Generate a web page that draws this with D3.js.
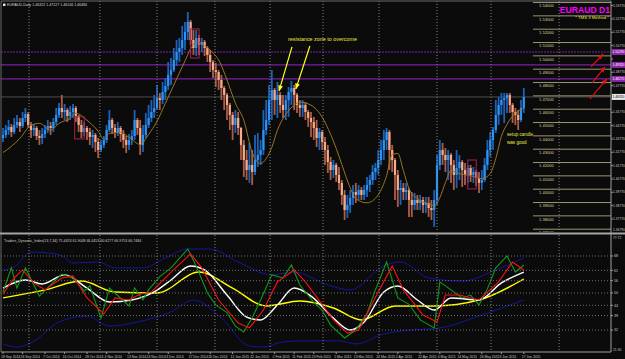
<!DOCTYPE html>
<html><head><meta charset="utf-8">
<script src="https://cdn.jsdelivr.net/npm/d3@7"></script>
<style>
html,body{margin:0;padding:0;background:#0b0b0b;overflow:hidden}
svg{display:block;font-family:"Liberation Sans",Arial,sans-serif}
</style></head><body>
<svg id="c" width="625" height="359"></svg>
<script>
// ---------- DATA ----------
const symbolHeader = "EURAUD,Daily  1.46322 1.47127 1.46146 1.46484";
const tdiHeader = "Traders_Dynamic_Index(13,7,34) 75.4453 61.9048 46.4453 60.6277 66.9753 66.7484";
const open0 = 1.4384;
const hi = [1.4459,1.4482,1.4519,1.4489,1.4534,1.4557,1.4534,1.4579,1.4609,1.4579,1.4504,1.4489,1.4474,1.4444,1.4459,1.4482,1.4519,1.4504,1.4534,1.4609,
1.4647,1.4707,1.4639,1.4609,1.4624,1.4639,1.4624,1.4557,1.4519,1.4504,1.4474,1.4459,1.4444,1.4422,1.4384,1.4369,1.4399,1.4482,1.4594,1.4534,
1.4489,1.4504,1.4474,1.4444,1.4399,1.4414,1.4444,1.4594,1.4534,1.4519,1.4482,1.4572,1.4632,1.4669,1.4707,1.4782,1.4722,1.4804,1.4834,1.4954,
1.4984,1.5059,1.5119,1.5134,1.5224,1.5254,1.5329,1.5269,1.5194,1.5194,1.5157,1.5134,1.5119,1.5074,1.5044,1.4969,1.4947,1.4894,1.4857,1.4774,
1.4722,1.4647,1.4579,1.4594,1.4579,1.4467,1.4369,1.4294,1.4347,1.4294,1.4407,1.4422,1.4369,1.4594,1.4669,1.4782,1.4894,1.4759,1.4804,1.4729,
1.4707,1.4707,1.4767,1.4812,1.4782,1.4722,1.4669,1.4669,1.4654,1.4594,1.4579,1.4542,1.4519,1.4459,1.4444,1.4392,1.4332,1.4242,1.4219,1.4197,
1.4167,1.4069,1.3994,1.3957,1.3994,1.4032,1.4047,1.4032,1.4017,1.4032,1.4092,1.4107,1.4182,1.4197,1.4294,1.4369,1.4444,1.4459,1.4444,1.4332,
1.4234,1.4144,1.4069,1.4047,1.4047,1.4009,1.3979,1.3972,1.3957,1.3957,1.3942,1.3942,1.3942,1.3919,1.3994,1.4257,1.4369,1.4347,1.4309,1.4294,
1.4272,1.4219,1.4294,1.4257,1.4219,1.4197,1.4182,1.4182,1.4167,1.4144,1.4129,1.4144,1.4234,1.4369,1.4429,1.4467,1.4669,1.4692,1.4722,1.4722,
1.4722,1.4722,1.4647,1.4609,1.4594,1.4669,1.4759];
const lo = [1.4354,1.4384,1.4407,1.4392,1.4414,1.4459,1.4429,1.4459,1.4504,1.4459,1.4384,1.4399,1.4369,1.4332,1.4339,1.4384,1.4422,1.4407,1.4429,1.4482,
1.4534,1.4534,1.4519,1.4504,1.4519,1.4534,1.4504,1.4429,1.4384,1.4399,1.4369,1.4332,1.4309,1.4279,1.4234,1.4279,1.4309,1.4347,1.4429,1.4414,
1.4384,1.4399,1.4354,1.4309,1.4272,1.4294,1.4332,1.4369,1.4407,1.4257,1.4279,1.4384,1.4459,1.4504,1.4534,1.4594,1.4594,1.4639,1.4669,1.4744,
1.4782,1.4879,1.4924,1.4954,1.5007,1.5044,1.5119,1.5082,1.5007,1.4999,1.5007,1.5029,1.4999,1.4954,1.4879,1.4834,1.4767,1.4744,1.4669,1.4594,
1.4519,1.4444,1.4369,1.4422,1.4407,1.4219,1.4092,1.4069,1.4047,1.4032,1.4107,1.4167,1.4182,1.4257,1.4407,1.4482,1.4519,1.4557,1.4534,1.4572,
1.4534,1.4519,1.4542,1.4632,1.4594,1.4572,1.4542,1.4542,1.4519,1.4467,1.4392,1.4369,1.4317,1.4294,1.4294,1.4182,1.4122,1.4069,1.4084,1.4054,
1.3994,1.3882,1.3769,1.3784,1.3822,1.3882,1.3897,1.3919,1.3919,1.3919,1.3942,1.3979,1.4032,1.4069,1.4107,1.4182,1.4219,1.4294,1.4144,1.4129,
1.3919,1.3867,1.3882,1.3919,1.3919,1.3792,1.3792,1.3844,1.3844,1.3844,1.3822,1.3822,1.3792,1.3769,1.3717,1.3882,1.4144,1.4182,1.4129,1.4069,
1.4047,1.3994,1.4009,1.4069,1.4017,1.4032,1.4047,1.4054,1.4047,1.4024,1.3972,1.3994,1.4054,1.4144,1.4242,1.4294,1.4422,1.4482,1.4557,1.4497,
1.4572,1.4572,1.4497,1.4482,1.4444,1.4504,1.4572];
const cl = [1.4407,1.4444,1.4467,1.4429,1.4482,1.4504,1.4474,1.4534,1.4564,1.4482,1.4444,1.4459,1.4399,1.4384,1.4414,1.4444,1.4474,1.4459,1.4504,1.4557,
1.4609,1.4579,1.4594,1.4549,1.4579,1.4609,1.4549,1.4482,1.4429,1.4459,1.4429,1.4392,1.4407,1.4354,1.4294,1.4332,1.4369,1.4444,1.4519,1.4459,
1.4429,1.4459,1.4414,1.4369,1.4332,1.4369,1.4399,1.4519,1.4459,1.4332,1.4407,1.4482,1.4534,1.4579,1.4609,1.4684,1.4669,1.4729,1.4774,1.4857,
1.4894,1.4969,1.5029,1.5059,1.5119,1.5179,1.5254,1.5119,1.5059,1.5134,1.5082,1.5104,1.5059,1.5007,1.4954,1.4894,1.4879,1.4819,1.4759,1.4707,
1.4632,1.4557,1.4482,1.4534,1.4459,1.4332,1.4219,1.4144,1.4182,1.4129,1.4219,1.4257,1.4294,1.4444,1.4519,1.4669,1.4744,1.4669,1.4707,1.4632,
1.4594,1.4669,1.4729,1.4759,1.4707,1.4632,1.4609,1.4632,1.4579,1.4534,1.4504,1.4459,1.4384,1.4429,1.4354,1.4294,1.4204,1.4144,1.4182,1.4107,
1.4047,1.3957,1.3844,1.3882,1.3934,1.3979,1.3957,1.3994,1.3957,1.3994,1.4032,1.4069,1.4129,1.4159,1.4219,1.4294,1.4369,1.4429,1.4294,1.4219,
1.4107,1.3994,1.4009,1.3979,1.3994,1.3919,1.3882,1.3919,1.3897,1.3919,1.3882,1.3897,1.3859,1.3844,1.3919,1.4182,1.4294,1.4257,1.4219,1.4257,
1.4182,1.4107,1.4159,1.4204,1.4144,1.4107,1.4159,1.4107,1.4129,1.4084,1.4047,1.4069,1.4182,1.4294,1.4369,1.4444,1.4557,1.4632,1.4669,1.4684,
1.4707,1.4632,1.4579,1.4557,1.4519,1.4609,1.4692];

const maIdx = [0,3,6,10,13,17,20,24,26,30,34,36,38,42,45,49,52,55,58,62,65,67,69,72,75,77,80,83,86,89,92,94,96,98,101,104,106,110,114,117,119,121,124,126,130,134,137,139,141,143,145,148,152,154,156,158,160,163,167,171,174,176,178,180,183,186];
const maVal = [1.4275,1.4321,1.4381,1.4479,1.4494,1.4442,1.4494,1.4532,1.4570,1.4517,1.4434,1.4374,1.4419,1.4426,1.4389,1.4336,1.4411,1.4509,1.4645,1.4827,1.4962,1.5053,1.5106,1.5076,1.5023,1.4970,1.4819,1.4645,1.4517,1.4275,1.4192,1.4230,1.4313,1.4442,1.4562,1.4630,1.4653,1.4630,1.4540,1.4411,1.4306,1.4185,1.4011,1.3928,1.3898,1.3958,1.4102,1.4260,1.4268,1.4140,1.4004,1.3928,1.3890,1.3875,1.3936,1.4049,1.4140,1.4117,1.4102,1.4079,1.4117,1.4230,1.4396,1.4487,1.4570,1.4608];

const levelPrices = [1.54,1.53,1.52,1.51,1.50,1.49,1.48,1.47,1.46,1.45,1.44,1.43,1.42,1.41,1.40,1.39,1.38,1.37];
const levelStartIdx = 189.3;
const priceTicks = [1.5377,1.5277,1.5177,1.5077,1.4977,1.4877,1.4777,1.4677,1.4577,1.4477,1.4377,1.4277,1.4177,1.4077,1.3977,1.3877,1.3777];
const purpleDotted = 1.5029;
const purpleSolid = [1.4932,1.4827];

const gridIdx = [9.3,34.6,55,75.7,95.4,114.3,134.3,155,174.3,198.6];
const dateIdx = [0,7,15,22,30,37,45,52,59,67,74,82,89,97,104,111,119,126,134,141,149,156,163,171,178,186];
const dateLabels = ["18 Sep 2014","26 Sep 2014","7 Oct 2014","16 Oct 2014","28 Oct 2014","4 Nov 2014","13 Nov 2014","24 Nov 2014","3 Dec 2014","17 Dec 2014","26 Dec 2014","12 Jan 2015","22 Jan 2015","2 Feb 2015","11 Feb 2015","23 Feb 2015","5 Mar 2015","13 Mar 2015","24 Mar 2015","2 Apr 2015","22 Apr 2015","4 May 2015","14 May 2015","26 May 2015","3 Jun 2015","17 Jun 2015"];

const boxes = [[25.6,29.0,1.4542,1.4377],[67.0,70.0,1.5202,1.4984],[166.0,169.0,1.4219,1.4002]];
const yellowArrows = [[103.2,1.5067,98.6,1.4737],[109.6,1.5074,104.6,1.4752]];
const redArrows = [[210.0,1.4917,214.3,1.5014],[210.4,1.4797,215.0,1.4917],[209.6,1.4677,215.7,1.4827]];

// TDI
const tdiLevels = [68,61,56,50,44,39,32];
const greenIdx = [0,3,5,8,13,17,21,25,29,31,35,38,45,47,50,52,56,60,66,69,73,76,80,83,86,89,92,96,100,103,106,111,114,117,122,126,130,133,137,141,145,149,154,156,160,164,167,170,173,176,180,183,186];
const greenVal = [50.5,62.2,52.4,62.2,48.5,53.9,59.2,57.3,51.0,53.5,37.8,52.4,43.7,52.4,46.6,51.5,58.0,62.2,71.4,63.1,50.0,44.2,40.5,33.9,31.0,38.0,46.6,58.8,57.3,63.6,53.9,45.5,41.5,34.4,28.1,32.0,40.0,51.5,65.1,47.6,44.5,36.9,33.0,55.4,51.5,47.6,49.0,44.2,52.0,62.2,68.0,60.2,63.6];
const redIdx = [0,4,7,11,15,21,25,30,36,40,45,49,53,60,67,71,77,84,88,93,98,104,108,118,123,127,134,139,143,150,155,158,163,170,177,182,186];
const redVal = [49.5,57.3,61.2,54.9,51.5,57.3,58.3,47.6,39.8,47.6,46.6,49.5,50.5,60.2,69.0,62.2,46.6,35.4,33.0,41.7,55.4,61.2,55.4,36.9,30.5,32.0,50.5,63.1,51.5,39.3,35.9,49.0,49.0,46.6,55.4,65.1,61.2];
const whiteIdx = [0,8,14,22,30,38,46,54,60,67,72,80,87,92,98,104,110,118,124,129,136,141,148,154,160,170,178,186];
const whiteVal = [52.4,56.3,54.4,58.8,52.4,45.6,46.6,50.5,56.3,63.1,61.2,49.0,38.3,36.9,44.2,52.4,48.5,37.8,32.0,35.9,50.5,53.4,46.6,41.7,47.6,46.6,54.9,60.2];
const yellowIdx = [0,15,28,40,55,70,82,94,106,118,128,140,154,170,186];
const yellowVal = [47.6,51.5,55.8,50.5,50.0,60.2,52.4,43.7,46.1,42.7,36.9,43.7,43.7,46.6,56.8];
const upIdx = [0,4,10,16,21,25,34,40,50,58,66,74,84,96,104,116,124,136,142,152,164,176,186];
const upVal = [61.2,62.6,69.9,69.5,68.0,64.6,65.1,62.2,62.2,67.0,71.4,71.4,65.1,58.8,60.2,53.9,51.5,63.1,65.1,57.3,55.8,61.2,67.0];
const dnIdx = [0,5,10,20,30,38,48,60,68,78,88,93,100,108,120,126,136,146,156,170,186];
const dnVal = [25.2,23.7,25.7,35.9,38.8,33.9,35.9,40.8,46.6,37.8,24.2,23.7,26.2,26.7,26.7,25.2,30.1,32.0,33.0,38.8,46.6];

// ---------- LAYOUT ----------
const L = 1, R = 611, mT = 1, mB = 232, iT = 235, iB = 352;
const AX_FS = 3.3;
const svg = d3.select("#c");
const x = d3.scaleLinear().domain([0,186]).range([3,523.8]);
const y = d3.scaleLinear().domain([1.3679,1.5404]).range([232,2]);
const yi = d3.scaleLinear().domain([21.3,77.72]).range([352,236]);

svg.append("rect").attr("width",625).attr("height",359).attr("fill","#0b0b0b");
const defs = svg.append("defs");
defs.append("clipPath").attr("id","cm").append("rect").attr("x",L).attr("y",mT).attr("width",R-L).attr("height",mB-mT);
defs.append("clipPath").attr("id","ci").append("rect").attr("x",L).attr("y",iT).attr("width",R-L).attr("height",iB-iT);
function marker(id,color,size){
  defs.append("marker").attr("id",id).attr("viewBox","0 0 10 10").attr("refX",9).attr("refY",5)
    .attr("markerWidth",size).attr("markerHeight",size).attr("markerUnits","userSpaceOnUse").attr("orient","auto")
    .append("path").attr("d","M0,1L10,5L0,9Z").attr("fill",color);
}
marker("ay","#ffff20",6); marker("ar","#e01010",6);

const main = svg.append("g").attr("clip-path","url(#cm)");
const ind = svg.append("g").attr("clip-path","url(#ci)");

// vertical grid
gridIdx.forEach(g=>{
  [[mT,mB],[iT,iB]].forEach(([a,b])=>{
    svg.append("line").attr("x1",x(g)).attr("x2",x(g)).attr("y1",a).attr("y2",b)
      .attr("stroke","#858585").attr("stroke-width",1).attr("stroke-dasharray","1,2");
  });
});

// horizontal objects
main.append("line").attr("x1",L).attr("x2",R).attr("y1",y(purpleDotted)).attr("y2",y(purpleDotted))
  .attr("stroke","#5a1a78").attr("stroke-width",1.6).attr("stroke-dasharray","2,1");
purpleSolid.forEach(p=>main.append("line").attr("x1",L).attr("x2",R).attr("y1",y(p)).attr("y2",y(p))
  .attr("stroke","#7b1fa2").attr("stroke-width",1.2));
const last = cl[cl.length-1];
main.append("line").attr("x1",L).attr("x2",R).attr("y1",y(last)).attr("y2",y(last)).attr("stroke","#4c4c4c").attr("stroke-width",1);

// level lines + labels
levelPrices.forEach(p=>{
  main.append("line").attr("x1",x(levelStartIdx)).attr("x2",R).attr("y1",y(p)).attr("y2",y(p))
    .attr("stroke","#9e9772").attr("stroke-width",1);
  main.append("text").attr("x",x(levelStartIdx)+6).attr("y",y(p)+4.8).attr("font-size",4.1)
    .attr("fill","#d8d0a0").text(p.toFixed(5));
});

// candles
cl.forEach((c,i)=>{
  const o = i ? cl[i-1] : open0;
  const up = c >= o;
  main.append("line").attr("x1",x(i)).attr("x2",x(i)).attr("y1",y(hi[i])).attr("y2",y(lo[i]))
    .attr("stroke", up ? "#1d62b8" : "#ad5e48").attr("stroke-width",1.8);
  const yt = y(Math.max(o,c)), yb = y(Math.min(o,c));
  main.append("rect").attr("x",x(i)-1.1).attr("width",2.2).attr("y",yt).attr("height",Math.max(1,yb-yt))
    .attr("fill", up ? "#2a95f8" : "#f7ab86");
});

// MA
main.append("path").datum(maIdx.map((d,k)=>[d,maVal[k]]))
  .attr("d",d3.line().x(d=>x(d[0])).y(d=>y(d[1])).curve(d3.curveMonotoneX))
  .attr("fill","none").attr("stroke","#9a7420").attr("stroke-width",1);

// boxes
boxes.forEach(b=>main.append("rect").attr("x",x(b[0])).attr("width",x(b[1])-x(b[0]))
  .attr("y",y(b[2])).attr("height",y(b[3])-y(b[2])).attr("fill","none").attr("stroke","#b02050").attr("stroke-width",1));

// arrows
yellowArrows.forEach(a=>main.append("line").attr("x1",x(a[0])).attr("y1",y(a[1])).attr("x2",x(a[2])).attr("y2",y(a[3]))
  .attr("stroke","#ffff20").attr("stroke-width",1.2).attr("marker-end","url(#ay)"));
redArrows.forEach(a=>main.append("line").attr("x1",x(a[0])).attr("y1",y(a[1])).attr("x2",x(a[2])).attr("y2",y(a[3]))
  .attr("stroke","#e01010").attr("stroke-width",1.2).attr("marker-end","url(#ar)"));

// annotation texts
main.append("text").attr("x",x(101.8)).attr("y",y(1.5112)).attr("font-size",5.4).attr("fill","#e8e840").text("resistance zone to overcome");
main.append("text").attr("x",x(180)).attr("y",y(1.4399)).attr("font-size",4.6).attr("fill","#e8e840").text("setup candle");
main.append("text").attr("x",x(180)).attr("y",y(1.4339)).attr("font-size",4.6).attr("fill","#e8e840").text("was good");
svg.append("text").attr("x",610).attr("y",13).attr("text-anchor","end").attr("font-size",8.6).attr("font-weight","bold").attr("fill","#ff00ff").text("EURAUD D1");
svg.append("text").attr("x",609).attr("y",18.5).attr("text-anchor","end").attr("font-size",4.3).attr("fill","#e8e840").text("* TMS 3 Method *");

// header
svg.append("rect").attr("x",3).attr("y",3.5).attr("width",2.5).attr("height",2.5).attr("fill","#e0e0e0");
svg.append("text").attr("x",7).attr("y",6.3).attr("font-size",3.6).attr("fill","#d8d8d8").text(symbolHeader);

// ---------- TDI ----------
tdiLevels.forEach(v=>{
  svg.append("line").attr("x1",L).attr("x2",R).attr("y1",yi(v)).attr("y2",yi(v))
    .attr("stroke","#6e6e6e").attr("stroke-width",1).attr("stroke-dasharray","1,2");
  svg.append("line").attr("x1",R).attr("x2",R+2).attr("y1",yi(v)).attr("y2",yi(v)).attr("stroke","#9a9a9a");
  svg.append("text").attr("x",R+3).attr("y",yi(v)+1.2).attr("font-size",AX_FS+0.4).attr("fill","#c8c8c8").text(v);
});
function tdiLine(idx,val,color,w,curve){
  ind.append("path").datum(idx.map((d,k)=>[d,val[k]]))
    .attr("d",d3.line().x(d=>x(d[0])).y(d=>yi(d[1])).curve(curve))
    .attr("fill","none").attr("stroke",color).attr("stroke-width",w);
}
tdiLine(upIdx,upVal,"#1515a0",1,d3.curveMonotoneX);
tdiLine(dnIdx,dnVal,"#1515a0",1,d3.curveMonotoneX);
tdiLine(yellowIdx,yellowVal,"#ffff00",1.4,d3.curveMonotoneX);
tdiLine(whiteIdx,whiteVal,"#ffffff",1.4,d3.curveMonotoneX);
tdiLine(greenIdx,greenVal,"#119a11",1.1,d3.curveLinear);
tdiLine(redIdx,redVal,"#ff1010",1.1,d3.curveLinear);
svg.append("text").attr("x",4).attr("y",241.5).attr("font-size",3.6).attr("fill","#d0d0d0").text(tdiHeader);
svg.append("text").attr("x",R+2).attr("y",239).attr("font-size",AX_FS).attr("fill","#c8c8c8").text(yi.domain()[1].toFixed(2));
svg.append("text").attr("x",R+2).attr("y",351).attr("font-size",AX_FS).attr("fill","#c8c8c8").text(yi.domain()[0].toFixed(2));

// ---------- frames ----------
svg.append("line").attr("x1",L).attr("x2",L).attr("y1",mT).attr("y2",iB).attr("stroke","#6a6a6a");
svg.append("line").attr("x1",L).attr("x2",R).attr("y1",mT).attr("y2",mT).attr("stroke","#6a6a6a");
svg.append("line").attr("x1",R).attr("x2",R).attr("y1",mT).attr("y2",iB).attr("stroke","#a0a0a0");
svg.append("line").attr("x1",L).attr("x2",R).attr("y1",iB).attr("y2",iB).attr("stroke","#a0a0a0");
svg.append("rect").attr("x",0).attr("y",mB+0.5).attr("width",625).attr("height",2).attr("fill","#a6a6a6");

// price axis
const boxed = [purpleDotted].concat(purpleSolid, [last]);
priceTicks.forEach(p=>{
  svg.append("line").attr("x1",R).attr("x2",R+2).attr("y1",y(p)).attr("y2",y(p)).attr("stroke","#9a9a9a");
  if (boxed.some(b=>Math.abs(y(b)-y(p))<6)) return;
  svg.append("text").attr("x",R+2).attr("y",y(p)+1.2).attr("font-size",AX_FS).attr("fill","#c8c8c8").text(p.toFixed(5));
});
[purpleDotted].concat(purpleSolid).forEach(p=>{
  svg.append("rect").attr("x",R+1).attr("y",y(p)-3).attr("width",13).attr("height",6).attr("fill","#8e24aa");
  svg.append("text").attr("x",R+1.5).attr("y",y(p)+1.2).attr("font-size",AX_FS).attr("fill","#ffffff").text(p.toFixed(5));
});
svg.append("rect").attr("x",R+1).attr("y",y(last)-3).attr("width",13).attr("height",6).attr("fill","#e8e8e8");
svg.append("text").attr("x",R+1.5).attr("y",y(last)+1.2).attr("font-size",AX_FS).attr("fill","#000").text(last.toFixed(5));
svg.append("text").attr("x",R+2).attr("y",230.5).attr("font-size",AX_FS).attr("fill","#c8c8c8").text(y.domain()[0].toFixed(5));

// date axis
dateIdx.forEach((d,k)=>{
  svg.append("line").attr("x1",x(d)).attr("x2",x(d)).attr("y1",iB).attr("y2",iB+2).attr("stroke","#9a9a9a");
  svg.append("text").attr("x",x(d)-2).attr("y",357.5).attr("font-size",3.4).attr("fill","#c8c8c8").text(dateLabels[k]);
});
</script>
</body></html>
